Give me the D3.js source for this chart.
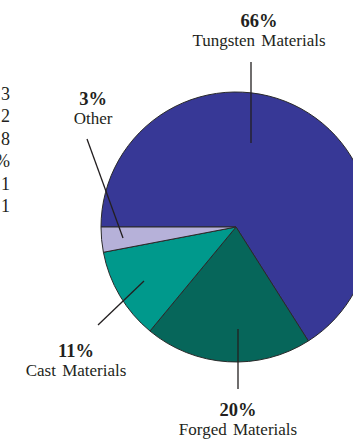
<!DOCTYPE html>
<html>
<head>
<meta charset="utf-8">
<script src="https://cdn.jsdelivr.net/npm/d3@7"></script>
<style>
  html, body { margin: 0; padding: 0; background: #fff; }
  svg { display: block; }
  text { font-family: "Liberation Serif", "DejaVu Serif", serif; fill: #231f20; }
</style>
</head>
<body>
<svg id="chart" width="353" height="439"></svg>
<script>
// Material shares (percent), clockwise from the 9 o'clock position
const categories = ["Tungsten Materials", "Forged Materials", "Cast Materials", "Other"];
const shares = [66, 20, 11, 3];
const sliceColors = ["#373896", "#06665a", "#00998c", "#b6b1d9"];

// Trailing characters of the neighbouring table column
const sideColumn = ["3", "2", "8", "%", "1", "1"];

// Callout layout, offsets from the pie centre (px)
const callouts = [
  { inner: [15, -84],    outer: [15, -165],   text: [23, -200] },
  { inner: [2, 102],     outer: [2, 162],     text: [2, 189] },
  { inner: [-92, 54],    outer: [-138, 98],   text: [-160, 130] },
  { inner: [-113, 11],   outer: [-149, -88],  text: [-143, -122] }
];

const svg = d3.select("#chart");
const cx = 236, cy = 227, radius = 135;

const pie = d3.pie().sort(null)
  .startAngle(-Math.PI / 2)
  .endAngle(Math.PI * 1.5);
const arc = d3.arc().innerRadius(0).outerRadius(radius);

const data = categories.map((c, i) => ({ name: c, value: shares[i], color: sliceColors[i], callout: callouts[i] }));
const arcs = pie.value(d => d.value)(data);

const g = svg.append("g").attr("transform", `translate(${cx},${cy})`);

g.selectAll("path.slice")
  .data(arcs)
  .join("path")
  .attr("class", "slice")
  .attr("d", arc)
  .attr("fill", d => d.data.color)
  .attr("stroke", "#2a2a2a")
  .attr("stroke-width", 1)
  .attr("stroke-linejoin", "round");

// Leader lines
g.selectAll("line.leader")
  .data(arcs)
  .join("line")
  .attr("class", "leader")
  .attr("x1", d => d.data.callout.inner[0])
  .attr("y1", d => d.data.callout.inner[1])
  .attr("x2", d => d.data.callout.outer[0])
  .attr("y2", d => d.data.callout.outer[1])
  .attr("stroke", "#231f20")
  .attr("stroke-width", 1.3);

// Percent + name labels
const lbl = g.selectAll("g.label")
  .data(arcs)
  .join("g")
  .attr("class", "label")
  .attr("transform", d => `translate(${d.data.callout.text[0]},${d.data.callout.text[1]})`);

lbl.append("text")
  .attr("text-anchor", "middle")
  .attr("font-weight", "bold")
  .attr("font-size", 18.5)
  .text(d => `${d.data.value}%`);

lbl.append("text")
  .attr("text-anchor", "middle")
  .attr("y", 19)
  .attr("font-size", 17)
  .attr("word-spacing", 2)
  .text(d => d.data.name);

// Clipped table column at the left edge
svg.append("g")
  .selectAll("text")
  .data(sideColumn)
  .join("text")
  .attr("x", 10)
  .attr("y", (d, i) => 100 + i * 22.4)
  .attr("text-anchor", "end")
  .attr("font-size", 18)
  .text(d => d);
</script>
</body>
</html>
